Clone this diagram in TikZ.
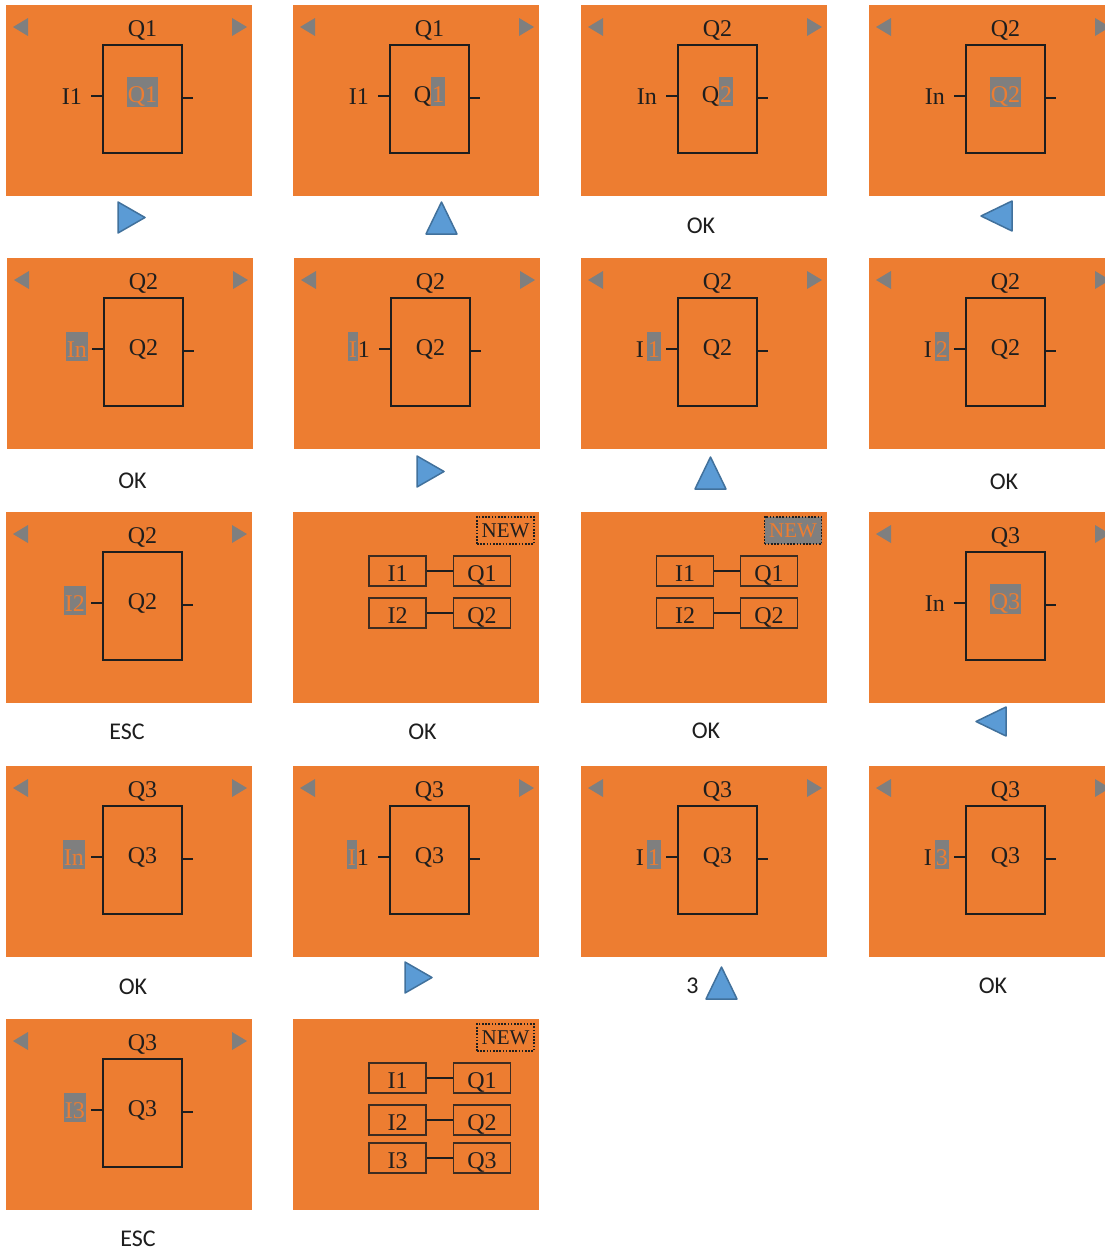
\documentclass[tikz,border=0pt]{standalone}
\usepackage{fontspec}
\setmainfont{Liberation Serif}
\newfontfamily\capfont{Carlito}
\definecolor{lcdorange}{HTML}{ED7D31}
\definecolor{hlgray}{HTML}{7F7F7F}
\definecolor{ink}{HTML}{1E1E1E}
\definecolor{keyblue}{HTML}{5B9BD5}
\definecolor{keyedge}{HTML}{41719C}
\newcommand\hilite[1]{{\setlength\fboxsep{1pt}\colorbox{hlgray}{\rule[-3pt]{0pt}{27pt}\textcolor{lcdorange}{#1}}}}
\tikzset{
 panelbg/.style={fill=lcdorange},
 navtri/.style={fill=hlgray},
 fb/.style={draw=ink, line width=2pt, minimum width=79pt, minimum height=108pt, inner sep=0pt},
 lcd/.style={font=\fontsize{24}{28}\selectfont, text=ink, inner sep=0pt},
 stub/.style={draw=ink, line width=1.5pt},
 link/.style={draw=ink, line width=1.3pt},
 sbox/.style={draw=ink!85!lcdorange, line width=1.3pt, minimum width=57pt, minimum height=30pt, inner sep=0pt, text height=20pt, text depth=0pt, font=\fontsize{24}{28}\selectfont, text=ink},
 newtag/.style={draw=ink, line width=1.5pt, dash pattern=on 1.6pt off 1.6pt, minimum width=57pt, minimum height=27pt, inner sep=0pt, text height=14pt, text depth=0pt, font=\fontsize{21}{24}\selectfont, text=ink},
 keytri/.style={fill=keyblue, draw=keyedge, line width=1.5pt, line join=round},
 caption/.style={font=\capfont\fontsize{24}{28}\selectfont, text=ink, inner sep=0pt, anchor=base},
}
% #1 name, #2 x, #3 y, #4 top label, #5 left label, #6 left label right edge, #7 centre label
\newcommand\lcdpanel[7]{%
  \begin{scope}[shift={(#2,#3)}]
    \fill[panelbg] (0,0) rectangle (246,191);
    \fill[navtri] (7,22) -- (22,13) -- (22,31) -- cycle;
    \fill[navtri] (241,22) -- (226,13) -- (226,31) -- cycle;
    \node[fb] (#1box) at (136.5,94) {};
    \node[lcd, anchor=base] (#1top) at (136.5,31) {#4};
    \node[lcd, anchor=base] (#1mid) at (136.5,97) {#7};
    \node[lcd, anchor=base east] (#1in) at (#6,99) {#5};
    \coordinate (#1a) at (85,91);
    \coordinate (#1b) at (187,93);
    \draw[stub] (#1a) -- (#1a -| #1box.west);
    \draw[stub] (#1b -| #1box.east) -- (#1b);
  \end{scope}}
\begin{document}
\begin{tikzpicture}[x=1pt,y=-1pt]
\useasboundingbox (0,0) rectangle (1105,1250);
\fill[white] (0,0) rectangle (1105,1250);
\clip (0,0) rectangle (1105,1250);

% ---------- row 1
\lcdpanel{pa}{6}{5}{Q1}{I1}{76}{\hilite{Q1}}
\lcdpanel{pb}{293}{5}{Q1}{I1}{76}{Q\hilite{1}}
\lcdpanel{pc}{581}{5}{Q2}{In}{76}{Q\hilite{2}}
\lcdpanel{pd}{869}{5}{Q2}{In}{76}{\hilite{Q2}}
% ---------- row 2
\lcdpanel{pe}{7}{258}{Q2}{\hilite{In}}{81}{Q2}
\lcdpanel{pf}{294}{258}{Q2}{\hilite{I}1}{76}{Q2}
\lcdpanel{pg}{581}{258}{Q2}{I\kern3pt\hilite{1}}{80}{Q2}
\lcdpanel{ph}{869}{258}{Q2}{I\kern3pt\hilite{2}}{80}{Q2}
% ---------- row 3
\lcdpanel{pi}{6}{512}{Q2}{\hilite{I2}}{80}{Q2}
\begin{scope}[shift={(293,512)}]
  \fill[panelbg] (0,0) rectangle (246,191);
  \node[newtag] (pjnew) at (212.5,18.5) {NEW};
  \node[sbox] (pji1) at (104.5,59) {I1};
  \node[sbox] (pjq1) at (189,59) {Q1};
  \node[sbox] (pji2) at (104.5,101) {I2};
  \node[sbox] (pjq2) at (189,101) {Q2};
  \draw[link] (pji1) -- (pjq1);
  \draw[link] (pji2) -- (pjq2);
\end{scope}
\begin{scope}[shift={(581,512)}]
  \fill[panelbg] (0,0) rectangle (246,191);
  \node[newtag, fill=hlgray, text=lcdorange] (pknew) at (212,18.5) {NEW};
  \node[sbox] (pki1) at (104,59) {I1};
  \node[sbox] (pkq1) at (188,59) {Q1};
  \node[sbox] (pki2) at (104,101) {I2};
  \node[sbox] (pkq2) at (188,101) {Q2};
  \draw[link] (pki1) -- (pkq1);
  \draw[link] (pki2) -- (pkq2);
\end{scope}
\lcdpanel{pl}{869}{512}{Q3}{In}{76}{\hilite{Q3}}
% ---------- row 4
\lcdpanel{pm}{6}{766}{Q3}{\hilite{In}}{79}{Q3}
\lcdpanel{pn}{293}{766}{Q3}{\hilite{I}1}{76}{Q3}
\lcdpanel{po}{581}{766}{Q3}{I\kern3pt\hilite{1}}{80}{Q3}
\lcdpanel{pp}{869}{766}{Q3}{I\kern3pt\hilite{3}}{80}{Q3}
% ---------- row 5
\lcdpanel{pq}{6}{1019}{Q3}{\hilite{I3}}{80}{Q3}
\begin{scope}[shift={(293,1019)}]
  \fill[panelbg] (0,0) rectangle (246,191);
  \node[newtag] (prnew) at (212.5,18.5) {NEW};
  \node[sbox] (pri1) at (104.5,59) {I1};
  \node[sbox] (prq1) at (189,59) {Q1};
  \node[sbox] (pri2) at (104.5,101) {I2};
  \node[sbox] (prq2) at (189,101) {Q2};
  \node[sbox] (pri3) at (104.5,139) {I3};
  \node[sbox] (prq3) at (189,139) {Q3};
  \draw[link] (pri1) -- (prq1);
  \draw[link] (pri2) -- (prq2);
  \draw[link] (pri3) -- (prq3);
\end{scope}

% ---------- key captions
\draw[keytri] (118,202) -- (118,233) -- (145,217.5) -- cycle;
\draw[keytri] (426,234) -- (457,234) -- (441.5,202) -- cycle;
\node[caption] (ca) at (701,233) {OK};
\draw[keytri] (981,216) -- (1012,201) -- (1012,231) -- cycle;

\node[caption] (cb) at (132.5,488) {OK};
\draw[keytri] (417,456) -- (417,487) -- (444,471.5) -- cycle;
\draw[keytri] (695,489) -- (726,489) -- (710.5,457) -- cycle;
\node[caption] (cc) at (1004,489) {OK};

\node[caption] (cd) at (127,739) {ESC};
\node[caption] (ce) at (422.5,739) {OK};
\node[caption] (cf) at (706,738) {OK};
\draw[keytri] (976,721.5) -- (1006,707) -- (1006,736) -- cycle;

\node[caption] (cg) at (133,994) {OK};
\draw[keytri] (405,962) -- (405,993) -- (432,977.5) -- cycle;
\node[caption] (ch) at (692.5,993) {3};
\draw[keytri] (706,999) -- (737,999) -- (721.5,967) -- cycle;
\node[caption] (ci) at (993,993.5) {OK};

\node[caption] (cj) at (138,1246) {ESC};
\end{tikzpicture}
\end{document}
